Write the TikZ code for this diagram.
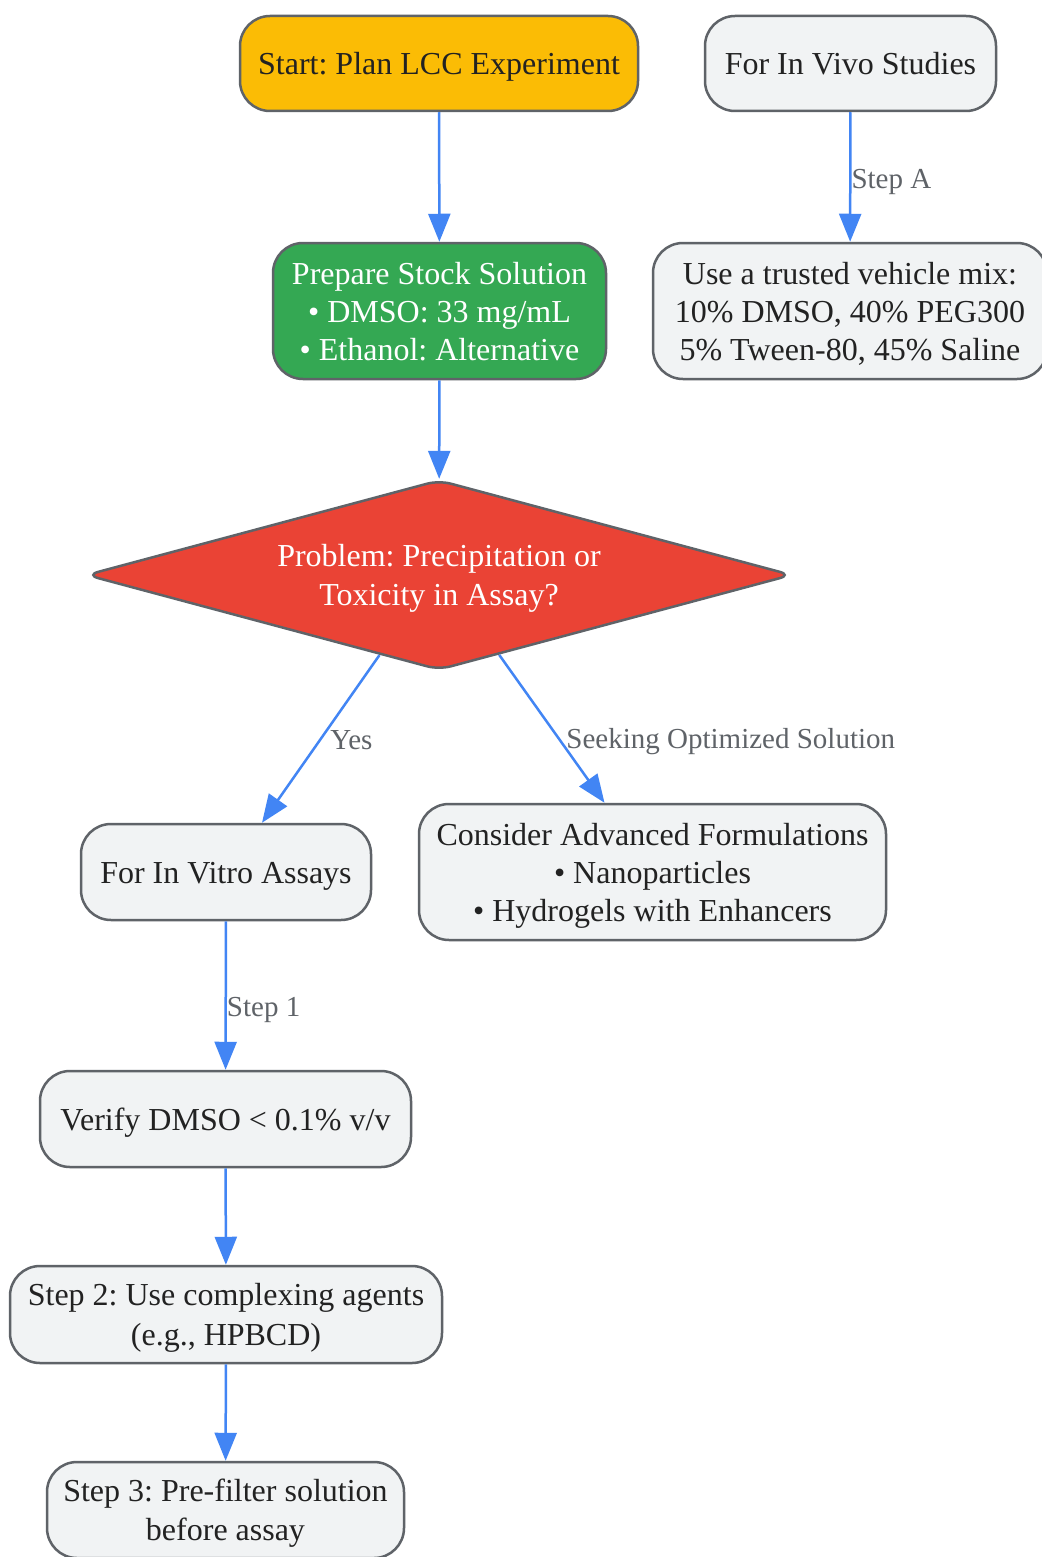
\documentclass[tikz,border=0pt]{standalone}
\usepackage{fontspec}
\setmainfont{Liberation Serif}
\usetikzlibrary{shapes.geometric,arrows.meta,calc}
\definecolor{cyellow}{HTML}{FBBC05}
\definecolor{cgreen}{HTML}{34A853}
\definecolor{cred}{HTML}{EA4335}
\definecolor{cgrey}{HTML}{F1F3F4}
\definecolor{cstroke}{HTML}{5F6368}
\definecolor{cblue}{HTML}{4285F4}
\definecolor{ctext}{HTML}{222222}
\definecolor{clabel}{HTML}{5F6368}
\frenchspacing
\newcommand{\ls}{\rule[-8.2pt]{0pt}{38.5pt}}
\newcommand{\labelstrut}{\rule[-7.5pt]{0pt}{34pt}}
\begin{document}
\begin{tikzpicture}[x=1pt,y=-1pt,
  txt/.style={align=center, font=\fontsize{32}{38}\selectfont\frenchspacing},
  box/.style={txt, draw=cstroke, line width=2.5pt, rounded corners=30pt, fill=cgrey, text=ctext,
    inner sep=0pt},
  conn/.style={draw=cblue, line width=2.5pt, -{Triangle[length=28pt,width=22pt]}},
  elabel/.style={text=clabel, font=\fontsize{29}{34}\selectfont, inner sep=0pt,
    execute at begin node=\labelstrut}]
\useasboundingbox[fill=white] (0,0) rectangle (1041,1557);

\node[box, fill=cyellow, minimum width=398pt, minimum height=95pt] (start) at (439,63.5) {\ls Start: Plan LCC Experiment\ls};
\node[box, minimum width=291pt, minimum height=95pt] (vivo) at (850.5,63.5) {\ls For In Vivo Studies\ls};
\node[box, fill=cgreen, text=white, minimum width=333pt, minimum height=136pt] (prep) at (439.5,311) {\ls Prepare Stock Solution\\• DMSO: 33 mg/mL\\• Ethanol: Alternative\ls};
\node[box, minimum width=394pt, minimum height=136pt] (veh) at (850,311) {\ls Use a trusted vehicle mix:\\10\% DMSO, 40\% PEG300\\5\% Tween-80, 45\% Saline\ls};
\node[txt, diamond, aspect=3.74, draw=cstroke, fill=cred, line width=2.5pt, rounded corners=12pt,
  minimum width=706pt, minimum height=190pt, inner sep=0pt, text=white] (prob) at (439,575) {\ls Problem: Precipitation or\\Toxicity in Assay?\ls};
\node[box, minimum width=290pt, minimum height=96pt] (vitro) at (226,872) {\ls For In Vitro Assays\ls};
\node[box, minimum width=467pt, minimum height=136pt] (adv) at (652.5,872) {\ls Consider Advanced Formulations\\• Nanoparticles\\• Hydrogels with Enhancers\ls};
\node[box, minimum width=371pt, minimum height=96pt] (verify) at (225.5,1119) {\ls Verify DMSO < 0.1\% v/v\ls};
\node[box, minimum width=432pt, minimum height=97pt] (s2) at (226,1314.5) {\ls Step 2: Use complexing agents\\(e.g., HPBCD)\ls};
\node[box, minimum width=357pt, minimum height=96pt] (s3) at (225.5,1510) {\ls Step 3: Pre-filter solution\\before assay\ls};

\draw[conn] (start) -- (prep);
\draw[conn] (vivo) -- node[elabel, anchor=west, pos=0.515] {Step A} (veh);
\draw[conn] (prep) -- (prob);
\draw[conn] ($(prob.south)!0.168!(prob.west)$) -- node[elabel, anchor=west, pos=0.506, xshift=9pt] {Yes} ([xshift=36pt]vitro.north);
\draw[conn] ($(prob.south)!0.17!(prob.east)$) -- node[elabel, anchor=west, pos=0.57, xshift=6pt] {Seeking Optimized Solution} ([xshift=-48pt]adv.north);
\draw[conn] (vitro) -- node[elabel, anchor=west, pos=0.576] {Step 1} (verify);
\draw[conn] (verify) -- (s2);
\draw[conn] (s2) -- (s3);
\end{tikzpicture}
\end{document}
